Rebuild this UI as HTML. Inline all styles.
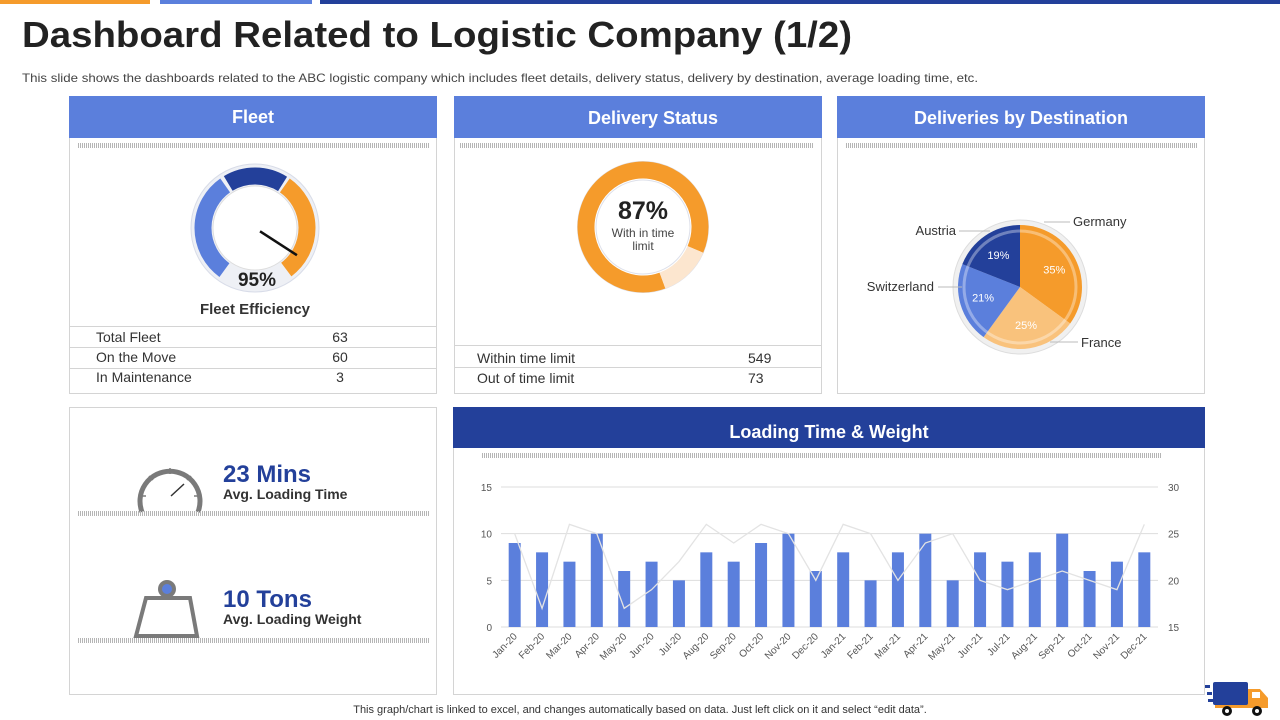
<!DOCTYPE html>
<html><head><meta charset="utf-8"><style>
html,body{margin:0;padding:0;background:#fff;}
svg{display:block;font-family:"Liberation Sans",sans-serif;}
</style></head><body>
<svg id="s" width="1280" height="720" viewBox="0 0 1280 720" xmlns="http://www.w3.org/2000/svg">
<defs>
<pattern id="hatch" width="2" height="6" patternUnits="userSpaceOnUse"><rect width="1" height="6" fill="#b5b5b5"/></pattern>
</defs>
<rect x="0" y="0" width="150" height="4" fill="#f59b2b"/>
<rect x="160" y="0" width="152" height="4" fill="#5b7fdc"/>
<rect x="320" y="0" width="960" height="4" fill="#23409a"/>
<text x="22" y="47" font-size="36" font-weight="bold" fill="#222" textLength="830" lengthAdjust="spacingAndGlyphs">Dashboard Related to Logistic Company (1/2)</text>
<text x="22" y="82" font-size="12" fill="#444" textLength="956" lengthAdjust="spacingAndGlyphs">This slide shows the dashboards related to the ABC logistic company which includes fleet details, delivery status, delivery by destination, average loading time, etc.</text>

<!-- Fleet panel -->
<g>
<rect x="69.5" y="96.5" width="367" height="297" fill="#fff" stroke="#d4d4d4"/>
<rect x="69" y="96" width="368" height="42" fill="#5b7fdc"/>
<text x="253" y="123" font-size="18" font-weight="bold" fill="#fff" text-anchor="middle">Fleet</text>
<rect x="78" y="143" width="352" height="5" fill="url(#hatch)"/>
<g id="gauge"></g>
<text x="257" y="286" font-size="19" font-weight="bold" fill="#222" text-anchor="middle">95%</text>
<text x="255" y="314" font-size="15" font-weight="bold" fill="#333" text-anchor="middle">Fleet Efficiency</text>
<line x1="69" y1="326.5" x2="437" y2="326.5" stroke="#d4d4d4"/>
<line x1="69" y1="347.5" x2="437" y2="347.5" stroke="#d4d4d4"/>
<line x1="69" y1="368.5" x2="437" y2="368.5" stroke="#d4d4d4"/>
<g font-size="14" fill="#333">
<text x="96" y="342">Total Fleet</text><text x="340" y="342" text-anchor="middle">63</text>
<text x="96" y="362">On the Move</text><text x="340" y="362" text-anchor="middle">60</text>
<text x="96" y="382">In Maintenance</text><text x="340" y="382" text-anchor="middle">3</text>
</g>
</g>

<!-- Delivery Status panel -->
<g>
<rect x="454.5" y="96.5" width="367" height="297" fill="#fff" stroke="#d4d4d4"/>
<rect x="454" y="96" width="368" height="42" fill="#5b7fdc"/>
<text x="653" y="124" font-size="18" font-weight="bold" fill="#fff" text-anchor="middle">Delivery Status</text>
<rect x="460" y="143" width="354" height="5" fill="url(#hatch)"/>
<g id="donut"></g>
<text x="643" y="219" font-size="25" font-weight="bold" fill="#222" text-anchor="middle">87%</text>
<text x="643" y="237" font-size="12" fill="#444" text-anchor="middle">With in time</text>
<text x="643" y="250" font-size="12" fill="#444" text-anchor="middle">limit</text>
<line x1="454" y1="345.5" x2="822" y2="345.5" stroke="#d4d4d4"/>
<line x1="454" y1="367.5" x2="822" y2="367.5" stroke="#d4d4d4"/>
<g font-size="14" fill="#333">
<text x="477" y="363">Within time limit</text><text x="748" y="363">549</text>
<text x="477" y="383">Out of time limit</text><text x="748" y="383">73</text>
</g>
</g>

<!-- Destinations panel -->
<g>
<rect x="837.5" y="96.5" width="367" height="297" fill="#fff" stroke="#d4d4d4"/>
<rect x="837" y="96" width="368" height="42" fill="#5b7fdc"/>
<text x="1021" y="124" font-size="18" font-weight="bold" fill="#fff" text-anchor="middle">Deliveries by Destination</text>
<rect x="845" y="143" width="352" height="5" fill="url(#hatch)"/>
<g id="pie"></g>
</g>

<!-- KPI panel -->
<g>
<rect x="69.5" y="407.5" width="367" height="287" fill="#fff" stroke="#d4d4d4"/>
<g fill="none" stroke="#7a7a7a">
<path d="M142,512 A30,30 0 1 1 198,512" stroke-width="5"/>
<line x1="170" y1="468" x2="170" y2="474" stroke-width="1.5"/>
<line x1="149" y1="476" x2="153" y2="480" stroke-width="1.5"/>
<line x1="191" y1="476" x2="187" y2="480" stroke-width="1.5"/>
<line x1="140" y1="496" x2="146" y2="496" stroke-width="1.5"/>
<line x1="200" y1="496" x2="194" y2="496" stroke-width="1.5"/>
<line x1="171" y1="496" x2="184" y2="484" stroke="#333" stroke-width="1.5"/>
</g>
<text x="223" y="482" font-size="24" font-weight="bold" fill="#23409a">23 Mins</text>
<text x="223" y="499" font-size="14" font-weight="bold" fill="#333">Avg. Loading Time</text>
<rect x="77" y="511" width="352" height="5" fill="url(#hatch)"/>
<g>
<path d="M146,598 L190,598 L197,636 L136,636 Z" fill="none" stroke="#7a7a7a" stroke-width="4"/>
<circle cx="167" cy="589" r="9" fill="#7a7a7a"/><circle cx="167" cy="589" r="5" fill="#5b7fdc"/>
</g>
<text x="223" y="607" font-size="24" font-weight="bold" fill="#23409a">10 Tons</text>
<text x="223" y="624" font-size="14" font-weight="bold" fill="#333">Avg. Loading Weight</text>
<rect x="77" y="638" width="352" height="5" fill="url(#hatch)"/>
</g>

<!-- Loading chart panel -->
<g>
<rect x="453.5" y="407.5" width="751" height="287" fill="#fff" stroke="#d4d4d4"/>
<rect x="453" y="407" width="752" height="41" fill="#23409a"/>
<text x="829" y="438" font-size="18" font-weight="bold" fill="#fff" text-anchor="middle">Loading Time &amp; Weight</text>
<rect x="481" y="453" width="680" height="5" fill="url(#hatch)"/>
<g id="chart"></g>
</g>

<text x="640" y="713" font-size="11" fill="#333" text-anchor="middle">This graph/chart is linked to excel, and changes automatically based on data. Just left click on it and select “edit data”.</text>
<g>
<rect x="1205" y="685" width="5" height="3" fill="#23409a"/><rect x="1207" y="692" width="5" height="3" fill="#23409a"/><rect x="1208" y="699" width="5" height="3" fill="#23409a"/>
<path d="M1215,708 L1268,708 L1268,698 L1260,689 L1248,689 L1248,703 L1215,703 Z" fill="#f59b2b"/>
<rect x="1213" y="682" width="35" height="23" rx="2" fill="#23409a"/>
<rect x="1252" y="692" width="8" height="6" fill="#fff"/>
<circle cx="1227" cy="711" r="5" fill="#111"/><circle cx="1227" cy="711" r="2" fill="#fff"/>
<circle cx="1257" cy="711" r="5" fill="#111"/><circle cx="1257" cy="711" r="2" fill="#fff"/>
</g>
</svg>
<script>
var NS='http://www.w3.org/2000/svg';
var months=['Jan-20','Feb-20','Mar-20','Apr-20','May-20','Jun-20','Jul-20','Aug-20','Sep-20','Oct-20','Nov-20','Dec-20','Jan-21','Feb-21','Mar-21','Apr-21','May-21','Jun-21','Jul-21','Aug-21','Sep-21','Oct-21','Nov-21','Dec-21'];
var barValues=[9,8,7,10,6,7,5,8,7,9,10,6,8,5,8,10,5,8,7,8,10,6,7,8];
var lineValues=[25,17,26,25,17,19,22,26,24,26,25,20,26,25,20,24,25,20,19,20,21,20,19,26];
var leftTicks=[0,5,10,15];
var rightTicks=[15,20,25,30];
var destNames=['Germany','France','Switzerland','Austria'];
var destShares=[35,25,21,19];
var deliveryShares=[87,13];
var fleetEfficiency=95;

function el(tag,attrs,parent,txt){var e=document.createElementNS(NS,tag);for(var k in attrs)e.setAttribute(k,attrs[k]);if(txt!==undefined)e.textContent=txt;parent.appendChild(e);return e;}
function pt(cx,cy,r,deg){var a=(deg-90)*Math.PI/180;return [cx+r*Math.cos(a),cy+r*Math.sin(a)];}
function arc(cx,cy,r,a0,a1){var p0=pt(cx,cy,r,a0),p1=pt(cx,cy,r,a1);var lg=(a1-a0)>180?1:0;return 'M'+p0[0]+','+p0[1]+' A'+r+','+r+' 0 '+lg+' 1 '+p1[0]+','+p1[1];}
function wedge(cx,cy,r,a0,a1){var p0=pt(cx,cy,r,a0),p1=pt(cx,cy,r,a1);var lg=(a1-a0)>180?1:0;return 'M'+cx+','+cy+' L'+p0[0]+','+p0[1]+' A'+r+','+r+' 0 '+lg+' 1 '+p1[0]+','+p1[1]+' Z';}

// Gauge
(function(){
var g=document.getElementById('gauge');var cx=255,cy=228;
el('circle',{cx:cx,cy:cy,r:64,fill:'#eef0f5',stroke:'#d8dce8'},g);
el('circle',{cx:cx,cy:cy,r:42,fill:'#fff',stroke:'#ddd'},g);
var segs=[[216,325,'#5b7fdc'],[329,392,'#23409a'],[35,143,'#f59b2b']];
segs.forEach(function(s,i){var p=el('path',{d:arc(cx,cy,52,s[0],s[1]),fill:'none',stroke:s[2],'stroke-width':17},g);

});
var ang=-90+fleetEfficiency/100*240; // map to needle direction
var tip=pt(cx,cy,50,123);var base=pt(cx,cy,6,123);
var n=el('line',{x1:base[0],y1:base[1],x2:tip[0],y2:tip[1],stroke:'#111','stroke-width':2.5},g);


})();

// Donut
(function(){
var g=document.getElementById('donut');var cx=643,cy=227;
el('circle',{cx:cx,cy:cy,r:65,fill:'#fff',stroke:'#dde0ea','stroke-width':2},g);
var tot=deliveryShares[0]+deliveryShares[1];
var start=160; var a0=start, a1=start+deliveryShares[0]/tot*360;
var p=el('path',{d:arc(cx,cy,57,a0,a1),fill:'none',stroke:'#f59b2b','stroke-width':17},g);


var q=el('path',{d:arc(cx,cy,57,a1-360,a0),fill:'none',stroke:'#fce6cf','stroke-width':17},g);


el('circle',{cx:cx,cy:cy,r:47,fill:'#fff',stroke:'#dde0ea'},g);
})();

// Pie
(function(){
var g=document.getElementById('pie');var cx=1020,cy=287,r=62;
var cols=['#f59b2b','#f9c27c','#5b7fdc','#23409a'];
var labelPos=[[1073,226,'start'],[1081,347,'start'],[934,291,'end'],[956,235,'end']];
el('circle',{cx:cx,cy:cy,r:67,fill:'#f0f0f0',stroke:'#ddd'},g);
var tot=destShares.reduce(function(a,b){return a+b;},0);var a=0;
destShares.forEach(function(v,i){
var a1=a+v/tot*360;
var w=el('path',{d:wedge(cx,cy,r,a,a1),fill:cols[i]},g);


var m=pt(cx,cy,r*0.62,(a+a1)/2);
var t=el('text',{x:m[0],y:m[1]+4,'font-size':11,fill:'#fff','text-anchor':'middle'},g,v+'%');


var lp=labelPos[i];
var lt=el('text',{x:lp[0],y:lp[1],'font-size':13,fill:'#333','text-anchor':lp[2]},g,destNames[i]);


a=a1;});
el('circle',{cx:cx,cy:cy,r:56,fill:'none',stroke:'rgba(255,255,255,0.35)','stroke-width':3},g);
var lines=[[1044,222,1070,222],[1050,342,1078,342],[938,287,962,287],[959,231,990,231]];
lines.forEach(function(l){el('line',{x1:l[0],y1:l[1],x2:l[2],y2:l[3],stroke:'#bbb'},g);});
})();

// Bar/line chart
(function(){
var g=document.getElementById('chart');
var x0=501,x1=1158,yTop=487,yBot=627;
function yL(v){return yBot-(v-leftTicks[0])/(leftTicks[leftTicks.length-1]-leftTicks[0])*(yBot-yTop);}
function yR(v){return yBot-(v-rightTicks[0])/(rightTicks[rightTicks.length-1]-rightTicks[0])*(yBot-yTop);}
var step=(x1-x0)/months.length;
function xC(i){return x0+step*(i+0.5);}
leftTicks.forEach(function(t){
el('line',{x1:x0,y1:yL(t),x2:x1,y2:yL(t),stroke:'#ddd'},g);
var tx=el('text',{x:492,y:yL(t)+4,'font-size':10,fill:'#555','text-anchor':'end'},g,t);

});
rightTicks.forEach(function(t){
var tx=el('text',{x:1168,y:yR(t)+4,'font-size':10,fill:'#555'},g,t);

});
barValues.forEach(function(v,i){
var b=el('rect',{x:xC(i)-6,y:yL(v),width:12,height:yBot-yL(v),fill:'#5b7fdc'},g);


var lx=xC(i)+3,ly=yBot+10;
var t=el('text',{x:lx,y:ly,'font-size':10,fill:'#555','text-anchor':'end',transform:'rotate(-45 '+lx+' '+ly+')'},g,months[i]);

});
var d=lineValues.map(function(v,i){return (i?'L':'M')+xC(i)+','+yR(v);}).join(' ');
var ln=el('path',{d:d,fill:'none',stroke:'#e3e3e3','stroke-width':1.3},g);


})();
</script>
</body></html>
